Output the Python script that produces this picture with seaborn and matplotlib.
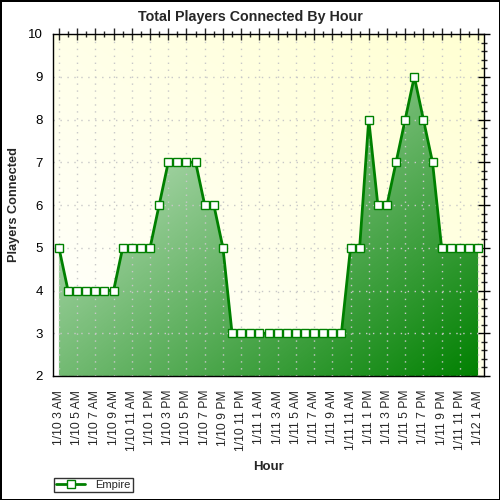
import numpy as np
import pandas as pd
import matplotlib
matplotlib.use("Agg")
import matplotlib.pyplot as plt
import seaborn as sns
from matplotlib.colors import LinearSegmentedColormap
from matplotlib.ticker import MultipleLocator

# ---- data ----
players = [5, 4, 4, 4, 4, 4, 4, 5, 5, 5, 5, 6, 7, 7, 7, 7, 6, 6, 5,
           3, 3, 3, 3, 3, 3, 3, 3, 3, 3, 3, 3, 3,
           5, 5, 8, 6, 6, 7, 8, 9, 8, 7, 5, 5, 5, 5, 5]
tick_labels = ["1/10 3 AM", "1/10 5 AM", "1/10 7 AM", "1/10 9 AM", "1/10 11 AM",
               "1/10 1 PM", "1/10 3 PM", "1/10 5 PM", "1/10 7 PM", "1/10 9 PM",
               "1/10 11 PM", "1/11 1 AM", "1/11 3 AM", "1/11 5 AM", "1/11 7 AM",
               "1/11 9 AM", "1/11 11 AM", "1/11 1 PM", "1/11 3 PM", "1/11 5 PM",
               "1/11 7 PM", "1/11 9 PM", "1/11 11 PM", "1/12 1 AM"]
series_name = "Empire"

df = pd.DataFrame({"hour": np.arange(len(players)), "players": players})

sns.set_style("white")
plt.rcParams["font.family"] = ["Liberation Sans", "DejaVu Sans"]

fig = plt.figure(figsize=(5, 5), dpi=100)
fig.patch.set_facecolor("white")
ax = fig.add_axes([53 / 500, 1 - 376 / 500, (484 - 53) / 500, (376 - 34) / 500])

x0, x1 = -0.65, len(players) - 1 + 0.65
y0, y1 = 2, 10

# background gradient: white bottom-left -> light yellow top-right
n = 200
gx, gy = np.meshgrid(np.linspace(0, 1, n), np.linspace(1, 0, n))
tb = (gx + gy) / 2
bg_cmap = LinearSegmentedColormap.from_list("bg", ["#ffffff", "#ffffd2"])
ax.imshow(tb, cmap=bg_cmap, extent=[x0, x1, y0, y1], aspect="auto", zorder=0,
          vmin=0, vmax=1, interpolation="bilinear")

# area fill with gradient
poly = ax.fill_between(df["hour"], df["players"], y0, color="none", linewidth=0, zorder=2)
tf = (gx + (1 - gy)) / 2
fill_cmap = LinearSegmentedColormap.from_list("fill", ["#e8f6e8", "#008000"])
im = ax.imshow(tf, cmap=fill_cmap, extent=[x0, x1, y0, y1], aspect="auto", zorder=2,
               vmin=0, vmax=1, interpolation="bilinear")
im.set_clip_path(poly.get_paths()[0], transform=ax.transData)

sns.lineplot(data=df, x="hour", y="players", ax=ax, color="#008000", linewidth=2,
             marker="s", markersize=6, markerfacecolor="white",
             markeredgecolor="#008000", markeredgewidth=1, zorder=4,
             label=series_name, legend=False)

ax.set_xlim(x0, x1)
ax.set_ylim(y0, y1)

ax.set_xticks(np.arange(0, len(players), 2))
ax.set_xticklabels(tick_labels, rotation=90, fontsize=8.7)
ax.xaxis.set_minor_locator(MultipleLocator(1))
ax.set_yticks(np.arange(2, 11, 1))
ax.yaxis.set_minor_locator(MultipleLocator(0.2))
ax.tick_params(axis="y", labelsize=9.5, colors="black")
ax.tick_params(which="major", direction="inout", length=8, width=1, top=True, right=True)
ax.tick_params(which="minor", direction="inout", length=5, width=1, top=True, right=True)
ax.tick_params(axis="x", which="major", pad=6)

ax.grid(True, which="major", color="#c8c8c8", linestyle=(0, (1, 4)), linewidth=1, zorder=1)
ax.set_axisbelow(False)
for s in ax.spines.values():
    s.set_color("black")
    s.set_linewidth(1)
    s.set_zorder(5)

ax.set_xlabel("Hour", fontsize=9.5, fontweight="bold", labelpad=7)
ax.set_ylabel("Players Connected", fontsize=9.2, fontweight="bold")
ax.yaxis.set_label_coords((20 - 53) / 431, 0.5)

fig.text(0.5, 1 - 17 / 500, "Total Players Connected By Hour", ha="center", va="center",
         fontsize=10.3, fontweight="bold")

handles, labels = ax.get_lines()[:1], [series_name]
leg = fig.legend(handles, labels, loc="lower left",
                 bbox_to_anchor=(54 / 500, 1 - 492 / 500), fontsize=8,
                 frameon=True, fancybox=False, edgecolor="black", borderpad=0.2,
                 handlelength=2.6, handletextpad=0.9, borderaxespad=0)
leg.get_frame().set_linewidth(1)

fig.patch.set_edgecolor("black")
fig.patch.set_linewidth(2)

fig.savefig("out.png", dpi=100, facecolor="white", edgecolor="black")
